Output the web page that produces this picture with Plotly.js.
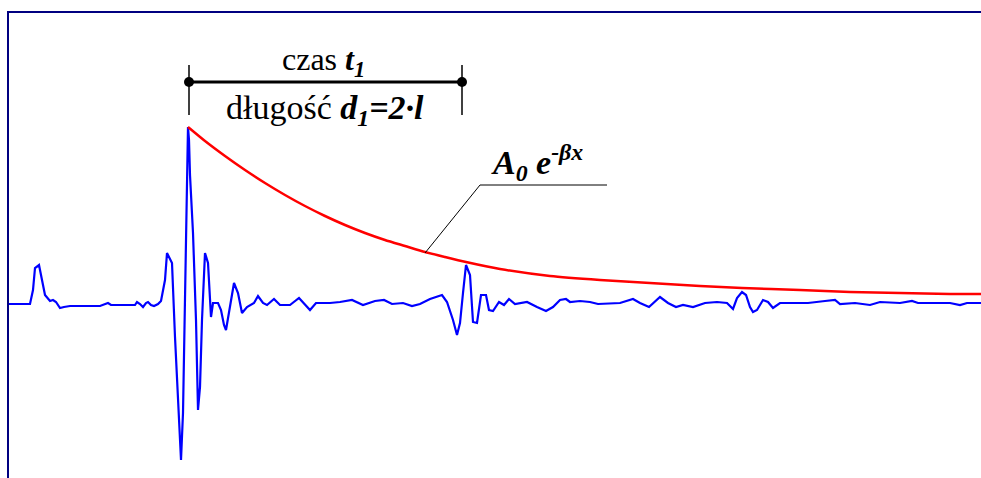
<!DOCTYPE html>
<html>
<head>
<meta charset="utf-8">
<script src="https://cdn.plot.ly/plotly-3.0.1.min.js"></script>
<style>
html,body{margin:0;padding:0;background:#fff;}
#chart{width:981px;height:478px;}
#chart svg text, #chart svg tspan {font-family: 'Liberation Serif', serif !important;}
</style>
</head>
<body>
<div id="chart"></div>
<script>
// Signal (time in samples, amplitude)
const signalTime = [8,30,33,35,39,42,45,50,53,56,60,64,70,100,105,108,111,135,137,140,143,146,148,151,154,158,161,163,165,167,170,172,175,178,180,181,183,185,186,187,188,189,190,193,196,198,200,202,205,208,211,213,218,221,224,226,230,234,238,242,247,254,258,263,267,274,280,290,299,305,310,316,330,340,352,363,375,384,392,403,412,420,430,436,442,447,450,453,457,460,463,466,470,473,477,481,486,489,493,499,504,509,515,527,537,546,553,560,566,570,580,590,598,612,620,633,640,649,660,668,676,683,693,705,717,727,733,737,742,746,750,753,757,763,768,773,780,800,808,825,835,840,855,870,880,900,912,918,935,950,960,967,981];
const signalAmp = [-1,-1,13,35,38,23,8,2,3,1,-5,-4,-3,-3,-1,0,-2,-2,1,-1,-4,0,1,-2,-3,-1,2,13,23,50,43,40,-34,-100,-137,-157,-110,3,83,143,176,163,128,70,-17,-107,-84,-17,50,40,-14,0,0,-7,-22,-27,-4,20,10,-10,-4,0,7,0,-2,4,-2,-2,5,-2,-7,0,0,1,3,-2,2,3,-1,0,-3,-1,4,6,8,1,-7,-17,-32,-20,10,38,28,-19,-20,8,8,-7,-8,1,-2,4,-1,1,-4,-8,-4,3,4,1,2,1,-1,0,0,4,0,-4,6,0,-4,-2,-4,0,1,0,-6,5,11,8,-4,-9,-7,3,1,-5,0,0,0,2,3,-1,0,-2,1,0,2,0,0,0,-2,0,0];
// Exponential envelope A0 e^(-beta x)
const envTime = [188,205,225,245,265,285,305,325,345,365,385,405,425,445,466,500,550,600,650,700,742,800,850,900,950,981];
const envAmp  = [176,162,147,133,120,108,97,87,78,70,63,57,51,46,41,34,27,23,20,17,15,13,11,10,9,9];
// Labels
const labelTime = "czas <b><i>t<sub>1</sub></i></b>";
const labelLength = "długość <b><i>d<sub>1</sub>=2·l</i></b>";
const labelEnv = "<b><i>A<sub>0</sub> e<sup>-βx</sup></i></b>";

const traces = [
  {x: signalTime, y: signalAmp, mode: 'lines', line: {color: '#0000ff', width: 2.2}, hoverinfo: 'skip'},
  {x: envTime, y: envAmp, mode: 'lines', line: {color: '#ff0000', width: 2.5, shape: 'spline', smoothing: 0.6}, hoverinfo: 'skip'}
];

const fam = 'Liberation Serif';
const layout = {
  width: 981, height: 478,
  margin: {l: 0, r: 0, t: 0, b: 0},
  paper_bgcolor: '#ffffff', plot_bgcolor: '#ffffff',
  font: {family: fam, color: 'black'},
  showlegend: false,
  xaxis: {range: [0, 981], visible: false, fixedrange: true},
  yaxis: {range: [-175, 303], visible: false, fixedrange: true},
  shapes: [
    // frame
    {type: 'line', xref: 'paper', yref: 'paper', x0: 8/981, x1: 8/981, y0: 0, y1: 1 - 12/478, line: {color: '#000080', width: 2}},
    {type: 'line', xref: 'paper', yref: 'paper', x0: 7/981, x1: 1, y0: 1 - 12/478, y1: 1 - 12/478, line: {color: '#000080', width: 2}},
    // dimension line
    {type: 'line', x0: 189, x1: 462, y0: 221, y1: 221, line: {color: '#000000', width: 3}},
    {type: 'line', x0: 189, x1: 189, y0: 188, y1: 238, line: {color: '#000000', width: 1.5}},
    {type: 'line', x0: 462, x1: 462, y0: 188, y1: 238, line: {color: '#000000', width: 1.5}},
    {type: 'circle', x0: 184, x1: 194, y0: 216, y1: 226, fillcolor: '#000000', line: {color: '#000000', width: 0}},
    {type: 'circle', x0: 457, x1: 467, y0: 216, y1: 226, fillcolor: '#000000', line: {color: '#000000', width: 0}},
    // leader line
    {type: 'path', path: 'M 425 50 L 480 118 L 607 118', line: {color: '#000000', width: 1}}
  ],
  annotations: [
    {x: 323, y: 242, text: labelTime, showarrow: false, xanchor: 'center', yanchor: 'middle', font: {family: fam, size: 32, color: 'black'}},
    {x: 325, y: 193, text: labelLength, showarrow: false, xanchor: 'center', yanchor: 'middle', font: {family: fam, size: 34, color: 'black'}},
    {x: 537, y: 141, text: labelEnv, showarrow: false, xanchor: 'center', yanchor: 'middle', font: {family: fam, size: 34, color: 'black'}}
  ]
};

Plotly.newPlot('chart', traces, layout, {staticPlot: true, displayModeBar: false});
</script>
</body>
</html>
